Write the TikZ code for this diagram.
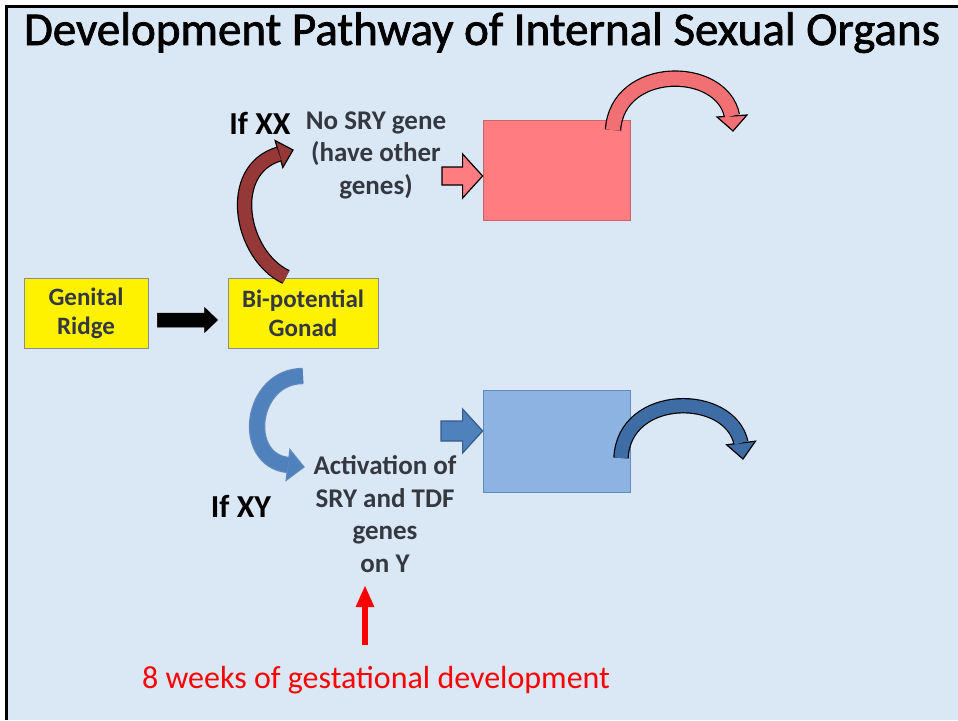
\documentclass[tikz,border=0pt]{standalone}
\usepackage{fontspec}
\setmainfont{Carlito}
\newfontfamily\titlefont[FakeBold=1.6]{Carlito}
\usetikzlibrary{calc,arrows.meta}
\definecolor{bgblue}{RGB}{218,231,245}
\definecolor{txtgray}{RGB}{52,56,64}
\definecolor{boxgray}{RGB}{140,140,140}
\definecolor{pinkfill}{RGB}{255,124,128}
\definecolor{pinkedge}{RGB}{200,100,108}
\definecolor{pinkarrow}{RGB}{240,112,116}
\definecolor{darkred}{RGB}{150,56,56}
\definecolor{bluefill}{RGB}{141,179,226}
\definecolor{blueedge}{RGB}{100,138,190}
\definecolor{bluearrow}{RGB}{79,129,189}
\definecolor{bluearrowdark}{RGB}{62,108,165}
\definecolor{blueoutline}{RGB}{55,90,140}
\newcommand\hblockarrow[6]{%
  \filldraw[#6] ($(#1)+(0,-#3)$) -- ($(#2)+(-#5,-#3)$) -- ($(#2)+(-#5,-#4)$) -- (#2)
    -- ($(#2)+(-#5,#4)$) -- ($(#2)+(-#5,#3)$) -- ($(#1)+(0,#3)$) -- cycle;}
% start, c1, c2, end(head base centre), tip, head half width, band width, fill, outline
\newcommand\bentarrow[9]{%
  \draw[line width=#7+2.4, color=#9] (#1) .. controls (#2) and (#3) .. (#4);
  \filldraw[fill=#8, draw=#9, line width=1.2, line join=miter]
    ($(#4)!#6pt!90:(#5)$) -- (#5) -- ($(#4)!#6pt!-90:(#5)$) -- cycle;
  \draw[line width=#7, color=#8] (#1) .. controls (#2) and (#3) .. (#4);}
\begin{document}
\begin{tikzpicture}[x={(1pt,0)},y={(0,-1pt)},
  ybox/.style={draw=boxgray, line width=0.8, fill=yellow, minimum width=124pt,
    minimum height=70pt, align=center, text=txtgray, inner sep=0pt,
    font=\fontsize{25}{29}\selectfont\bfseries},
  lbl/.style={align=center, text=txtgray, inner sep=0pt,
    font=\fontsize{27}{32.5}\selectfont\bfseries},
  iflbl/.style={anchor=base, inner sep=0pt, font=\fontsize{32}{32}\selectfont\bfseries},
  pinkrect/.style={fill=pinkfill, draw=pinkedge, line width=0.8, minimum width=147pt,
    minimum height=100pt, inner sep=0pt},
  bluerect/.style={fill=bluefill, draw=blueedge, line width=0.8, minimum width=147pt,
    minimum height=102pt, inner sep=0pt}]
% frame and background
\useasboundingbox (0,0) rectangle (958,720);
\fill[white] (0,0) rectangle (958,720);
\fill[bgblue] (6.5,6.5) rectangle (958,720);
\draw[black, line width=2.5] (6.5,720) -- (6.5,6.5) -- (958,6.5);
% title
\node[anchor=base, inner sep=0pt, font=\fontsize{47}{47}\titlefont] (title) at (482,45)
  {Development Pathway of Internal Sexual Organs};
% boxes
\node[ybox] (gr) at (86,313) {Genital\\Ridge};
\node[ybox, minimum width=150pt] (gon) at (303,313) {Bi-potential\\Gonad};
\node[pinkrect] (pr) at (556.5,170) {};
\node[bluerect] (br) at (556.5,441) {};
% labels
\node[iflbl] (ifxx) at (260,134) {If XX};
\node[iflbl] (ifxy) at (241,517) {If XY};
\node[lbl] (nosry) at (376,155) {No SRY gene\\(have other\\genes)};
\node[lbl] (act) at (385,514) {Activation of\\SRY and TDF\\genes\\on Y};
\node[anchor=base, inner sep=0pt, text=red, font=\fontsize{32}{32}\selectfont] (weeks)
  at (376,688) {8 weeks of gestational development};
% straight block arrows
\coordinate (ba1) at ($(gr.east)+(9,7)$);
\coordinate (ba2) at ($(gon.west)+(-10,7)$);
\hblockarrow{ba1}{ba2}{7}{12.5}{13}{fill=black, draw=black, line width=0.5}
\coordinate (pa1) at (442,176);
\coordinate (pa2) at (pr.west |- pa1);
\hblockarrow{pa1}{pa2}{9}{22}{20}{fill=pinkfill, draw=black, line width=1.2, line join=miter}
\coordinate (qa1) at (441,431);
\coordinate (qa2) at (br.west |- qa1);
\hblockarrow{qa1}{qa2}{10}{22}{20}{fill=bluearrow, draw=blueoutline, line width=1.2, line join=miter}
% curved arrows
\coordinate (r1) at (286,277);
\coordinate (r2) at (279,154);
\coordinate (rt) at (293,150);
\bentarrow{r1}{240,255}{225,170}{r2}{rt}{14}{13}{darkred}{black}
\coordinate (b1) at (303,376);
\coordinate (b2) at (288,465);
\coordinate (bt) at (304,467);
\bentarrow{b1}{250,376}{240,460}{b2}{bt}{15.5}{14}{bluearrow}{blueedge}
\coordinate (p1) at (613,130);
\coordinate (p2) at (732,116);
\coordinate (pt) at (733,131);
\bentarrow{p1}{617,64}{722,64}{p2}{pt}{15}{14}{pinkarrow}{black}
\coordinate (q1) at (621,458);
\coordinate (q2) at (741,443);
\coordinate (qt) at (743,459);
\bentarrow{q1}{624,391}{730,391}{q2}{qt}{14.5}{13}{bluearrowdark}{black}
% red arrow
\coordinate (w1) at (365,645);
\coordinate (w2) at (365,585);
\draw[red, line width=6, -{Triangle[length=22pt,width=17pt]}] (w1) -- (w2);
\end{tikzpicture}
\end{document}
